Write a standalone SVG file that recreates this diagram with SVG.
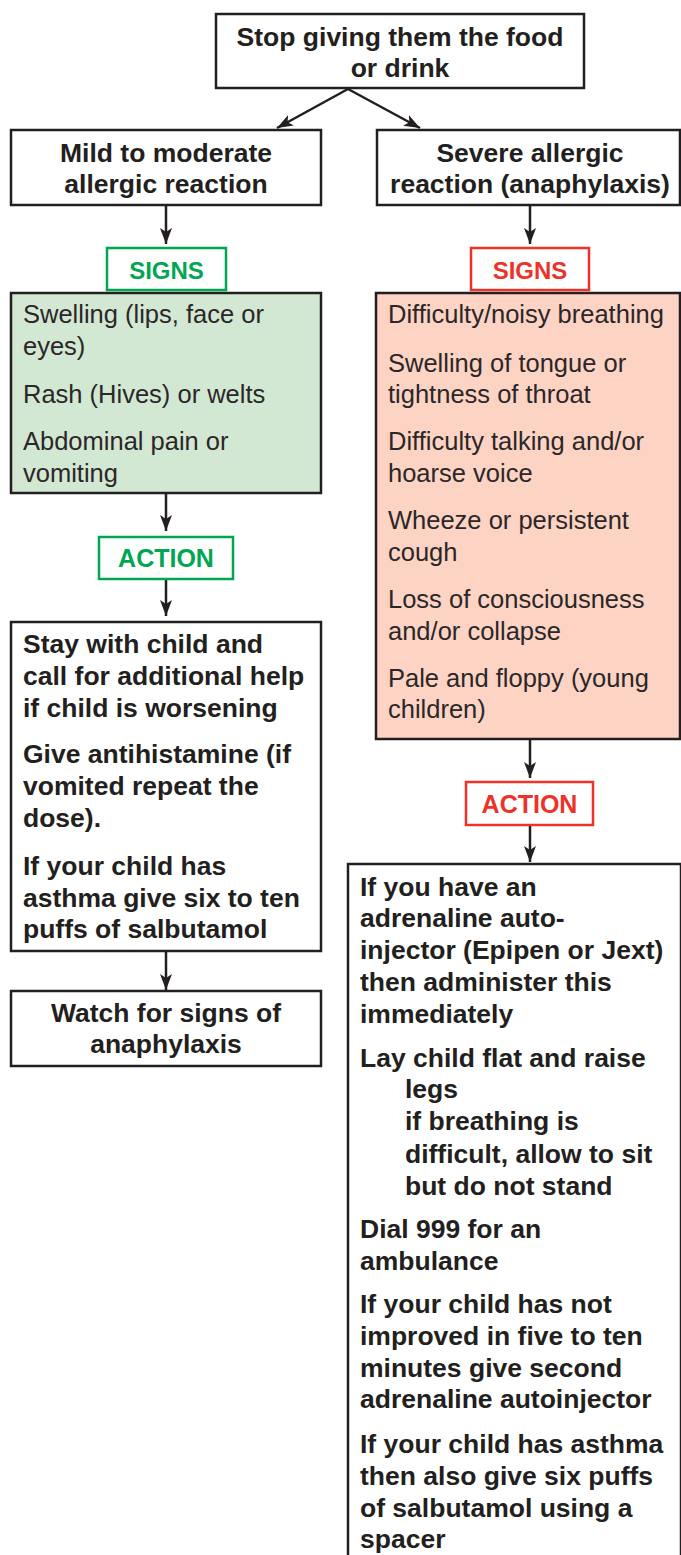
<svg xmlns="http://www.w3.org/2000/svg" width="681" height="1555" viewBox="0 0 681 1555">
<style>
.box{fill:#ffffff;stroke:#231f20;stroke-width:2.5}
.gfill{fill:#d2e8d3;stroke:#231f20;stroke-width:2.5}
.pfill{fill:#fdd3c3;stroke:#231f20;stroke-width:2.5}
.gtag{fill:#ffffff;stroke:#00a651;stroke-width:2.5}
.rtag{fill:#ffffff;stroke:#ee3129;stroke-width:2.5}
.b{font-family:"Liberation Sans",Arial,sans-serif;font-weight:bold;font-size:26.5px;fill:#231f20}
.c{text-anchor:middle}
.r{font-family:"Liberation Sans",Arial,sans-serif;font-size:25.5px;fill:#2b2728}
.gt{font-family:"Liberation Sans",Arial,sans-serif;font-weight:bold;font-size:24px;fill:#00a651;text-anchor:middle}
.rt{font-family:"Liberation Sans",Arial,sans-serif;font-weight:bold;font-size:24px;fill:#ee3129;text-anchor:middle}
.conn{stroke:#231f20;stroke-width:2.5;fill:none;marker-end:url(#ah)}
</style>
<defs>
<marker id="ah" markerUnits="userSpaceOnUse" markerWidth="16" markerHeight="12" refX="16" refY="6" orient="auto">
<path d="M0,0 L16,6 L0,12 L4,6 z" fill="#231f20"/>
</marker>
</defs>
<rect width="681" height="1555" fill="#ffffff"/>

<g id="connectors">
<line class="conn" x1="348" y1="89" x2="277" y2="128"/>
<line class="conn" x1="348" y1="89" x2="420" y2="128"/>
<line class="conn" x1="166" y1="205" x2="166" y2="244"/>
<line class="conn" x1="530" y1="205" x2="530" y2="244"/>
<line class="conn" x1="166" y1="493" x2="166" y2="531"/>
<line class="conn" x1="166" y1="579" x2="166" y2="616"/>
<line class="conn" x1="166" y1="951" x2="166" y2="990"/>
<line class="conn" x1="530" y1="739" x2="530" y2="778"/>
<line class="conn" x1="530" y1="825" x2="530" y2="862"/>
</g>

<g id="stop">
<rect class="box" x="216" y="14" width="368" height="74"/>
<text class="b c" x="400" y="46">Stop giving them the food</text>
<text class="b c" x="400" y="77">or drink</text>
</g>

<g id="mild">
<rect class="box" x="11" y="130" width="310" height="75"/>
<text class="b c" x="166" y="162">Mild to moderate</text>
<text class="b c" x="166" y="193">allergic reaction</text>
</g>

<g id="severe">
<rect class="box" x="377" y="130" width="303" height="75"/>
<text class="b c" x="530" y="162">Severe allergic</text>
<text class="b c" x="530" y="193">reaction (anaphylaxis)</text>
</g>

<g id="signs-green">
<rect class="gtag" x="107" y="248" width="119" height="42"/>
<text class="gt" x="166.5" y="279">SIGNS</text>
</g>

<g id="signs-red">
<rect class="rtag" x="471" y="248" width="118" height="42"/>
<text class="rt" x="530" y="279">SIGNS</text>
</g>

<g id="mild-signs">
<rect class="gfill" x="11" y="293" width="310" height="200"/>
<text class="r" x="23" y="323">Swelling (lips, face or</text>
<text class="r" x="23" y="355">eyes)</text>
<text class="r" x="23" y="403">Rash (Hives) or welts</text>
<text class="r" x="23" y="450">Abdominal pain or</text>
<text class="r" x="23" y="482">vomiting</text>
</g>

<g id="severe-signs">
<rect class="pfill" x="376" y="293" width="304" height="446"/>
<text class="r" x="388" y="323">Difficulty/noisy breathing</text>
<text class="r" x="388" y="372">Swelling of tongue or</text>
<text class="r" x="388" y="403">tightness of throat</text>
<text class="r" x="388" y="450">Difficulty talking and/or</text>
<text class="r" x="388" y="482">hoarse voice</text>
<text class="r" x="388" y="529">Wheeze or persistent</text>
<text class="r" x="388" y="561">cough</text>
<text class="r" x="388" y="608">Loss of consciousness</text>
<text class="r" x="388" y="640">and/or collapse</text>
<text class="r" x="388" y="687">Pale and floppy (young</text>
<text class="r" x="388" y="718">children)</text>
</g>

<g id="action-green">
<rect class="gtag" x="99" y="537" width="134" height="42"/>
<text class="gt" x="166" y="567" style="font-size:25px">ACTION</text>
</g>

<g id="mild-action">
<rect class="box" x="11" y="622" width="310" height="329"/>
<text class="b" x="23" y="653">Stay with child and</text>
<text class="b" x="23" y="685">call for additional help</text>
<text class="b" x="23" y="717">if child is worsening</text>
<text class="b" x="23" y="763">Give antihistamine (if</text>
<text class="b" x="23" y="795">vomited repeat the</text>
<text class="b" x="23" y="827">dose).</text>
<text class="b" x="23" y="875">If your child has</text>
<text class="b" x="23" y="907">asthma give six to ten</text>
<text class="b" x="23" y="938">puffs of salbutamol</text>
</g>

<g id="watch">
<rect class="box" x="11" y="991" width="310" height="75"/>
<text class="b c" x="166" y="1022">Watch for signs of</text>
<text class="b c" x="166" y="1053">anaphylaxis</text>
</g>

<g id="action-red">
<rect class="rtag" x="466" y="782" width="127" height="43"/>
<text class="rt" x="529.5" y="813" style="font-size:25px">ACTION</text>
</g>

<g id="severe-action">
<path d="M348,1555 L348,864 L681,864 L681,1555" fill="#ffffff" stroke="#231f20" stroke-width="2.5"/>
<text class="b" x="360" y="896">If you have an</text>
<text class="b" x="360" y="927">adrenaline auto-</text>
<text class="b" x="360" y="959">injector (Epipen or Jext)</text>
<text class="b" x="360" y="991">then administer this</text>
<text class="b" x="360" y="1023">immediately</text>
<text class="b" x="360" y="1067">Lay child flat and raise</text>
<text class="b" x="405" y="1098">legs</text>
<text class="b" x="405" y="1130">if breathing is</text>
<text class="b" x="405" y="1163">difficult, allow to sit</text>
<text class="b" x="405" y="1195">but do not stand</text>
<text class="b" x="360" y="1238">Dial 999 for an</text>
<text class="b" x="360" y="1270">ambulance</text>
<text class="b" x="360" y="1313">If your child has not</text>
<text class="b" x="360" y="1345">improved in five to ten</text>
<text class="b" x="360" y="1377">minutes give second</text>
<text class="b" x="360" y="1408">adrenaline autoinjector</text>
<text class="b" x="360" y="1453">If your child has asthma</text>
<text class="b" x="360" y="1485">then also give six puffs</text>
<text class="b" x="360" y="1517">of salbutamol using a</text>
<text class="b" x="360" y="1548">spacer</text>
</g>
</svg>
